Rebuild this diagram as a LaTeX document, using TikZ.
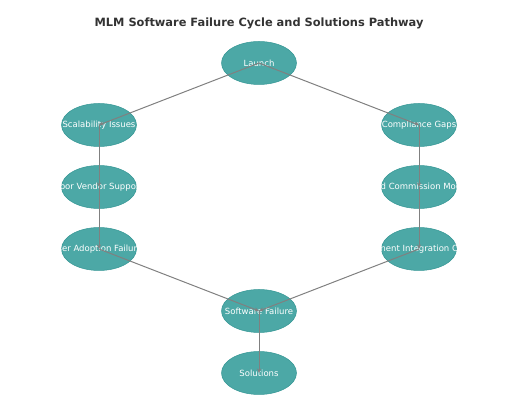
\documentclass[tikz,border=0pt]{standalone}
\usepackage{fontspec}
\setmainfont{DejaVu Sans}
\usepackage{xcolor}
\usetikzlibrary{arrows.meta,shapes,positioning}
\definecolor{mlmfill}{RGB}{76,168,166}
\definecolor{mlmborder}{RGB}{52,150,148}
\definecolor{mlmedge}{RGB}{128,128,128}
\definecolor{mlmtitle}{RGB}{51,51,51}
\tikzset{
  mlmstep/.style={
    ellipse, draw=mlmborder, fill=mlmfill, line width=0.5pt,
    minimum width=75pt, minimum height=43pt, inner sep=0pt,
    label={[mlmtext]center:#1}
  },
  mlmtext/.style={text=white,inner sep=0pt,font=\fontsize{8.5}{10}\selectfont},
  mlmedge/.style={-{Stealth[length=4.5pt,width=4pt]},draw=mlmedge,line width=1pt},
  mlmtitle/.style={font=\fontsize{11.4}{13}\selectfont\bfseries,text=mlmtitle}
}
\begin{document}
\begin{tikzpicture}[x=1pt,y=1pt]
  \useasboundingbox (0,0) rectangle (532,401);
  \node[mlmtitle] (title) at (259,378) {MLM Software Failure Cycle and Solutions Pathway};
  % upper branch
  \node[mlmstep=Launch] (launch) at (259,338) {};
  \node[mlmstep=Scalability Issues] (scale) at (99,276) {};
  \node[mlmstep=Compliance Gaps] (comply) at (419,276) {};
  % middle rows
  \node[mlmstep=Poor Vendor Support] (vendor) at (99,214) {};
  \node[mlmstep=Rigid Commission Models] (commission) at (419,214) {};
  \node[mlmstep=User Adoption Failures] (adoption) at (99,152) {};
  \node[mlmstep=Payment Integration Costs] (payment) at (419,152) {};
  % lower branch
  \node[mlmstep=Software Failure] (failure) at (259,90) {};
  \node[mlmstep=Solutions] (solutions) at (259,28) {};
  % connectors, centre to centre
  \draw[mlmedge] (launch.center) -- (scale.center);
  \draw[mlmedge] (launch.center) -- (comply.center);
  \draw[mlmedge] (scale.center) -- (vendor.center);
  \draw[mlmedge] (vendor.center) -- (adoption.center);
  \draw[mlmedge] (adoption.center) -- (failure.center);
  \draw[mlmedge] (comply.center) -- (commission.center);
  \draw[mlmedge] (commission.center) -- (payment.center);
  \draw[mlmedge] (payment.center) -- (failure.center);
  \draw[mlmedge] (failure.center) -- (solutions.center);
\end{tikzpicture}
\end{document}
